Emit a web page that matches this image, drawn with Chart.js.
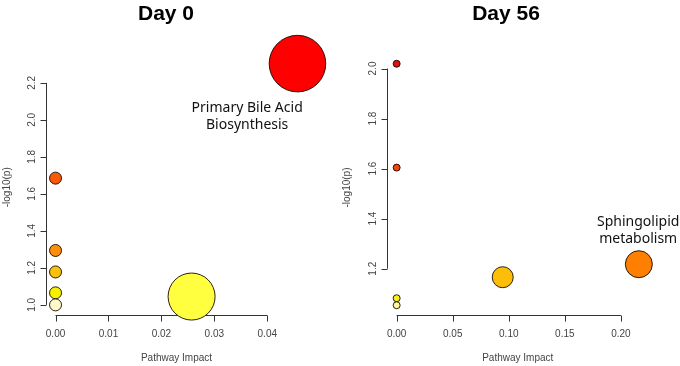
<!DOCTYPE html>
<html>
<head>
<meta charset="utf-8">
<script src="https://cdn.jsdelivr.net/npm/chart.js@4.4.1/dist/chart.umd.min.js"></script>
<style>
    html, body { margin: 0; padding: 0; background: #fff; }
    .wrap { display: flex; width: 680px; height: 366px; }
    canvas { display: block; }
</style>
</head>
<body>
<div class="wrap">
    <canvas id="day0" width="340" height="366"></canvas>
    <canvas id="day56" width="340" height="366"></canvas>
</div>
<script>
// Day 0 pathways
const day0Impact = [0.0457, 0.0257, 0, 0, 0, 0, 0];
const day0LogP = [2.304, 1.045, 1.685, 1.294, 1.178, 1.065, 1.0];
const day0Size = [28.3, 23.5, 6, 6, 6, 6, 6];
const day0Colors = ['#ff0000', '#ffff40', '#fa5a08', '#fb8e0c', '#fbc00e', '#f8f000', '#fff8c8'];
const day0XTicks = [0, 0.01, 0.02, 0.03, 0.04];
const day0YTicks = [1.0, 1.2, 1.4, 1.6, 1.8, 2.0, 2.2];

// Day 56 pathways
const day56Impact = [0.216, 0.0946, 0, 0, 0, 0];
const day56LogP = [1.218, 1.166, 2.019, 1.604, 1.082, 1.054];
const day56Size = [13.5, 10.5, 3.5, 3.5, 3.5, 3.5];
const day56Colors = ['#ff8000', '#fdbe0a', '#dc1212', '#ec4612', '#f5f020', '#fff6a0'];
const day56XTicks = [0, 0.05, 0.10, 0.15, 0.20];
const day56YTicks = [1.2, 1.4, 1.6, 1.8, 2.0];

const axisColor = '#333';
const tickFont = '10px "Liberation Sans", Arial, sans-serif';

const rStylePlugin = {
    id: 'rStyle',
    beforeDatasetsDraw(chart, args, opts) {
        const ctx = chart.ctx;
        const area = chart.chartArea;
        const xs = chart.scales.x;
        const ys = chart.scales.y;
        ctx.save();
        ctx.strokeStyle = axisColor;
        ctx.lineWidth = 1;
        // x axis
        const x0 = xs.getPixelForValue(opts.xTicks[0]);
        const x1 = xs.getPixelForValue(opts.xTicks[opts.xTicks.length - 1]);
        const yb = Math.round(area.bottom) + 0.5;
        ctx.beginPath();
        ctx.moveTo(x0, yb);
        ctx.lineTo(x1, yb);
        opts.xTicks.forEach(function (v) {
            const px = Math.round(xs.getPixelForValue(v)) + 0.5;
            ctx.moveTo(px, yb);
            ctx.lineTo(px, yb + 6);
        });
        // y axis
        const xl = Math.round(area.left) + 0.5;
        const y0 = ys.getPixelForValue(opts.yTicks[0]);
        const y1 = ys.getPixelForValue(opts.yTicks[opts.yTicks.length - 1]);
        ctx.moveTo(xl, y0);
        ctx.lineTo(xl, y1);
        opts.yTicks.forEach(function (v) {
            const py = Math.round(ys.getPixelForValue(v)) + 0.5;
            ctx.moveTo(xl, py);
            ctx.lineTo(xl - 6, py);
        });
        ctx.stroke();

        // tick labels
        ctx.fillStyle = '#444';
        ctx.font = tickFont;
        ctx.textAlign = 'center';
        ctx.textBaseline = 'middle';
        opts.xTicks.forEach(function (v) {
            ctx.fillText(v.toFixed(2), xs.getPixelForValue(v), yb + 19);
        });
        opts.yTicks.forEach(function (v) {
            ctx.save();
            ctx.translate(xl - 14, ys.getPixelForValue(v));
            ctx.rotate(-Math.PI / 2);
            ctx.fillText(v.toFixed(1), 0, 0);
            ctx.restore();
        });

        // axis titles
        ctx.fillText('Pathway Impact', (area.left + area.right) / 2, 358);
        ctx.save();
        ctx.translate(7, (area.top + area.bottom) / 2 + 3);
        ctx.rotate(-Math.PI / 2);
        ctx.fillText('-log10(p)', 0, 0);
        ctx.restore();
        ctx.restore();
    },
    afterDraw(chart, args, opts) {
        const ctx = chart.ctx;
        const xs = chart.scales.x;
        const ys = chart.scales.y;
        ctx.save();
        ctx.fillStyle = '#000';
        ctx.font = 'bold 21px "Liberation Sans", Arial, sans-serif';
        ctx.textAlign = 'center';
        ctx.textBaseline = 'alphabetic';
        ctx.fillText(opts.title, 166, 20);

        ctx.fillStyle = '#111';
        ctx.font = '14px "Noto Sans", sans-serif';
        const lx = xs.getPixelForValue(opts.labelX);
        const ly = ys.getPixelForValue(opts.labelY);
        opts.label.forEach(function (line, i) {
            ctx.fillText(line, lx, ly + i * 17);
        });
        ctx.restore();
    }
};

function makeChart(id, impact, logp, size, colors, xMin, xMax, yMin, yMax, pad, plugOpts) {
    const points = impact.map(function (x, i) {
        return { x: x, y: logp[i], r: size[i] };
    });
    return new Chart(document.getElementById(id).getContext('2d'), {
        type: 'bubble',
        data: {
            datasets: [{
                data: points,
                backgroundColor: colors,
                borderColor: 'rgba(20,10,0,0.9)',
                borderWidth: 1,
                hoverBorderWidth: 1,
                clip: false
            }]
        },
        options: {
            responsive: false,
            animation: false,
            events: [],
            layout: { padding: pad },
            scales: {
                x: { type: 'linear', min: xMin, max: xMax, display: false },
                y: { type: 'linear', min: yMin, max: yMax, display: false }
            },
            plugins: {
                legend: { display: false },
                tooltip: { enabled: false },
                rStyle: plugOpts
            }
        },
        plugins: [rStylePlugin]
    });
}

makeChart('day0', day0Impact, day0LogP, day0Size, day0Colors,
    -0.0018, 0.0475, 0.948, 2.356,
    { left: 46, right: 33, top: 54, bottom: 51.5 },
    {
        title: 'Day 0',
        xTicks: day0XTicks,
        yTicks: day0YTicks,
        label: ['Primary Bile Acid', 'Biosynthesis'],
        labelX: 0.0362,
        labelY: 2.043
    });

makeChart('day56', day56Impact, day56LogP, day56Size, day56Colors,
    -0.0086, 0.2246, 1.015, 2.058,
    { left: 47, right: 31.5, top: 54, bottom: 51 },
    {
        title: 'Day 56',
        xTicks: day56XTicks,
        yTicks: day56YTicks,
        label: ['Sphingolipid', 'metabolism'],
        labelX: 0.2154,
        labelY: 1.372
    });
</script>
</body>
</html>
